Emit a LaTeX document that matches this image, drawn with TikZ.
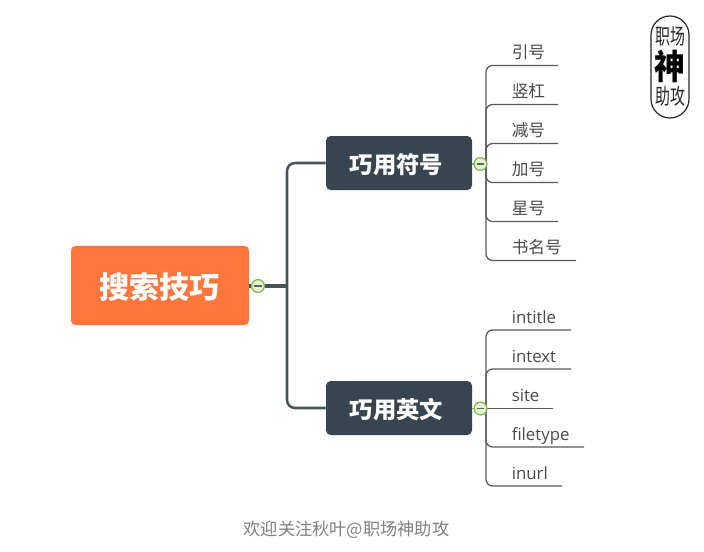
\documentclass[tikz,border=0pt]{standalone}
\usepackage{fontspec}
\setmainfont{Noto Sans CJK SC}
\newfontfamily\latinf{Open Sans}
\begin{document}
\begin{tikzpicture}[x=0.75pt,y=-0.75pt,
  rootbox/.style={fill=rootorange,rounded corners=3.5pt,minimum width=133.5pt,minimum height=59.5pt,inner sep=0pt},
  subbox/.style={fill=subdark,rounded corners=3.5pt,minimum width=109.5pt,minimum height=40.5pt,inner sep=0pt},
  roottext/.style={inner sep=0pt,text=white,font=\fontsize{22.6}{22.6}\bfseries},
  subtext/.style={inner sep=0pt,text=white,font=\fontsize{17.5}{17.5}\bfseries},
  collapse/.style={circle,draw=collapsegreen,fill=collapsefill,line width=0.8pt,minimum size=9.5pt,inner sep=0pt},
  minusbar/.style={draw=minusgray,line width=0.8pt},
  leaf/.style={anchor=base west,inner sep=0pt,text=leaftext,font=\fontsize{12.5}{12.5}\selectfont},
  leaflat/.style={anchor=base west,inner sep=0pt,text=leaftext,font=\fontsize{12.6}{12.6}\latinf},
  trunk/.style={draw=trunkcolor,line width=1.9pt,rounded corners=6pt},
  branch/.style={draw=branchcolor,line width=0.95pt,rounded corners=5pt},
  stampfont/.style={inner sep=0pt,text=black!85,font=\fontsize{11.2}{11.2}\selectfont,yscale=1.45,transform shape},
]
\definecolor{rootorange}{HTML}{FF763C}
\definecolor{subdark}{HTML}{374551}
\definecolor{collapsegreen}{HTML}{7DB84E}
\definecolor{collapsefill}{HTML}{E6F5CF}
\definecolor{minusgray}{HTML}{55665A}
\definecolor{leaftext}{HTML}{4A4A4A}
\definecolor{trunkcolor}{HTML}{47555A}
\definecolor{branchcolor}{HTML}{555B5E}
\definecolor{footgray}{HTML}{808080}
\useasboundingbox (0,0) rectangle (704,551);
\fill[white] (0,0) rectangle (704,551);

\node[rootbox] (root) at (160,285.5) {};
\node[subbox] (s1) at (399,163) {};
\node[subbox] (s2) at (399,408) {};
\node[roottext] (roott) at (159.5,287.5) {搜索技巧};
\node[subtext] (s1t) at (396.5,165) {巧用符号};
\node[subtext] (s2t) at (396.5,409.5) {巧用英文};

\coordinate (bus0) at (287,286);
\coordinate (bus1) at (486,164);
\coordinate (bus2) at (486,408.5);

\node[collapse] (c0) at (258,286) {};
\node[collapse] (c1) at (480.5,164) {};
\node[collapse] (c2) at (480.5,408.5) {};

% trunk connectors
\draw[trunkcolor,line width=2.3pt] (root.east |- c0) -- (c0);
\draw[trunkcolor,line width=2.3pt] (c0) -- (bus0);
\draw[trunk] (bus0) -- (bus0 |- s1) -- (s1.west);
\draw[trunk] (bus0) -- (bus0 |- s2) -- (s2.west);
\draw[draw=collapsegreen,line width=1pt] (s1.east |- c1) -- (c1);
\draw[draw=collapsegreen,line width=1pt] (s2.east |- c2) -- (c2);

% leaf ends
\coordinate (e1) at (558,65.5);
\coordinate (e2) at (558,104.5);
\coordinate (e3) at (558,143.5);
\coordinate (e4) at (558,182.5);
\coordinate (e5) at (558,221.5);
\coordinate (e6) at (576,260.5);
\coordinate (f1) at (571,330);
\coordinate (f2) at (571,369);
\coordinate (f3) at (553,408.5);
\coordinate (f4) at (584,447);
\coordinate (f5) at (562,486);

\draw[branch] (c1) -- (bus1);
\draw[branch] (c2) -- (bus2);
\foreach \e in {e1,e2,e3,e4,e5,e6}
  \draw[branch] (bus1) -- (bus1 |- \e) -- (\e);
\foreach \e in {f1,f2,f4,f5}
  \draw[branch] (bus2) -- (bus2 |- \e) -- (\e);
\draw[branch] (c2) -- (f3);

% collapse markers on top
\node[collapse] at (c0) {};
\node[collapse] at (c1) {};
\node[collapse] at (c2) {};
\draw[minusbar] ([xshift=-2.9pt]c0.center) -- ([xshift=2.9pt]c0.center);
\draw[minusbar] ([xshift=-2.9pt]c1.center) -- ([xshift=2.9pt]c1.center);
\draw[minusbar] ([xshift=-2.9pt]c2.center) -- ([xshift=2.9pt]c2.center);

% leaves
\node[leaf] (l1) at (511.5,58.5) {引号};
\node[leaf] (l2) at (511.5,97.5) {竖杠};
\node[leaf] (l3) at (511.5,136.5) {减号};
\node[leaf] (l4) at (511.5,175.5) {加号};
\node[leaf] (l5) at (511.5,214.5) {星号};
\node[leaf] (l6) at (511.5,253.5) {书名号};
\node[leaflat] (m1) at (511.5,323) {intitle};
\node[leaflat] (m2) at (511.5,362) {intext};
\node[leaflat] (m3) at (511.5,401) {site};
\node[leaflat] (m4) at (511.5,440) {filetype};
\node[leaflat] (m5) at (511.5,479) {inurl};

% stamp
\node[draw=black!85,line width=0.9pt,rounded corners=14.2pt,minimum width=28.5pt,minimum height=76.5pt,inner sep=0pt] (stamp) at (670,67) {};
\node[stampfont] (st1) at (662.5,36.5) {职};
\node[stampfont] (st2) at (677.5,36.5) {场};
\node[inner sep=0pt,text=black,font=\fontsize{23}{23}\bfseries,yscale=1.12,transform shape] (st3) at (670,66.5) {神};
\node[stampfont] (st4) at (662.5,96.5) {助};
\node[stampfont] (st5) at (677.5,96.5) {攻};

% footer
\node[inner sep=0pt,text=footgray,font=\fontsize{12.9}{12.9}\selectfont] (foot) at (346.5,530) {欢迎关注秋叶@职场神助攻};
\end{tikzpicture}
\end{document}
